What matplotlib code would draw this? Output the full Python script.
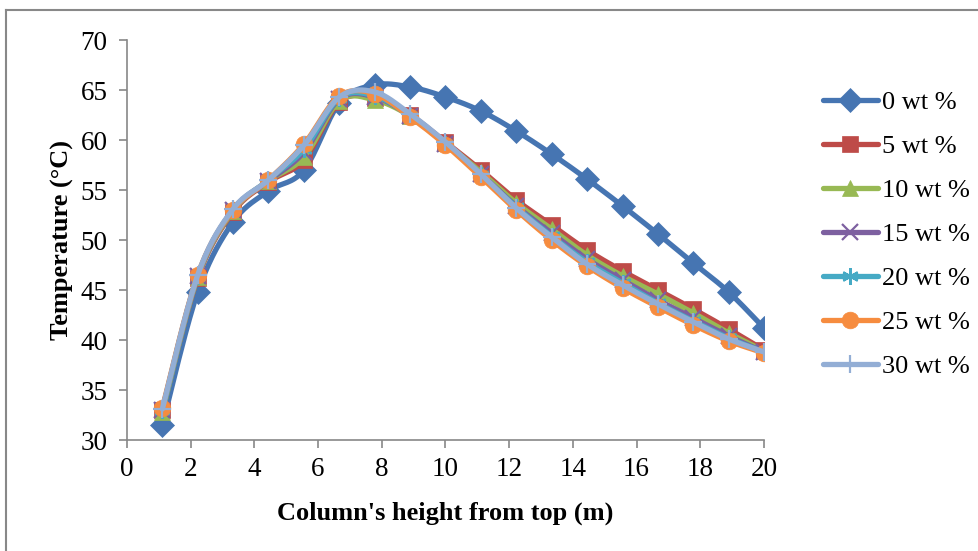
import numpy as np
import matplotlib
matplotlib.use("Agg")
import matplotlib.pyplot as plt
from matplotlib.lines import Line2D

# ---- data ----
heights = [1.11, 2.22, 3.33, 4.44, 5.56, 6.67, 7.78, 8.89, 10.0, 11.11,
           12.22, 13.33, 14.44, 15.56, 16.67, 17.78, 18.89, 20.0]
labels = ["0 wt %", "5 wt %", "10 wt %", "15 wt %", "20 wt %", "25 wt %", "30 wt %"]
t0 = [31.5, 44.8, 51.8, 54.9, 57.0, 63.7, 65.5, 65.3, 64.3, 62.9, 60.9, 58.6, 56.1, 53.4, 50.6, 47.7, 44.8, 41.2]
t5 = [33.0, 46.2, 52.8, 55.8, 58.0, 63.8, 64.2, 62.5, 59.8, 57.0, 54.0, 51.5, 49.0, 46.9, 45.0, 43.1, 41.1, 39.0]
t10 = [32.8, 46.3, 52.9, 55.9, 58.3, 63.9, 64.0, 62.4, 59.7, 56.8, 53.7, 51.1, 48.5, 46.4, 44.6, 42.7, 40.7, 38.9]
t15 = [33.0, 46.4, 53.0, 55.9, 58.8, 64.1, 64.3, 62.4, 59.6, 56.6, 53.4, 50.7, 48.1, 46.0, 44.0, 42.2, 40.4, 38.8]
t20 = [33.0, 46.4, 53.0, 56.0, 59.1, 64.2, 64.4, 62.4, 59.6, 56.5, 53.3, 50.4, 47.8, 45.7, 43.7, 41.9, 40.2, 38.8]
t25 = [33.2, 46.5, 53.0, 56.0, 59.6, 64.4, 64.6, 62.3, 59.5, 56.3, 53.0, 50.0, 47.4, 45.2, 43.3, 41.5, 39.9, 38.7]
t30 = [33.1, 46.5, 53.1, 56.0, 59.5, 64.3, 64.8, 62.6, 59.8, 56.6, 53.2, 50.3, 47.6, 45.5, 43.6, 41.8, 40.1, 38.8]
series = [t0, t5, t10, t15, t20, t25, t30]

colors = ["#4675B2", "#BE4B48", "#98B954", "#7D60A0", "#46AAC5", "#F68C3F", "#93AED5"]
markers = ["D", "s", "^", "x", (6, 2, 0), "o", "+"]
msizes = [12, 11, 11, 11, 12, 12, 13]

plt.rcParams["font.family"] = ["Liberation Serif", "DejaVu Serif"]


def smooth(x, y, n=20):
    x = np.asarray(x, float)
    y = np.asarray(y, float)
    px = np.concatenate([[x[0]], x, [x[-1]]])
    py = np.concatenate([[y[0]], y, [y[-1]]])
    xs, ys = [], []
    t = np.linspace(0, 1, n)
    for i in range(len(x) - 1):
        p0 = np.array([px[i], py[i]])
        p1 = np.array([px[i + 1], py[i + 1]])
        p2 = np.array([px[i + 2], py[i + 2]])
        p3 = np.array([px[i + 3], py[i + 3]])
        c1 = p1 + (p2 - p0) / 6.0
        c2 = p2 - (p3 - p1) / 6.0
        b = ((1 - t) ** 3)[:, None] * p1 + (3 * (1 - t) ** 2 * t)[:, None] * c1 \
            + (3 * (1 - t) * t ** 2)[:, None] * c2 + (t ** 3)[:, None] * p2
        xs.append(b[:, 0])
        ys.append(b[:, 1])
    return np.concatenate(xs), np.concatenate(ys)


fig = plt.figure(figsize=(9.79, 5.51), dpi=100)
W, H = 979, 551
ax = fig.add_axes([127 / W, 1 - 440 / H, (764 - 127) / W, (440 - 40) / H])

handles = []
for vals, lab, c, m, ms in zip(series, labels, colors, markers, msizes):
    sx, sy = smooth(heights, vals)
    ax.plot(sx, sy, color=c, lw=3.8, solid_capstyle="round", zorder=3)
    mew = 1.6 if m in ("x", "+") or isinstance(m, tuple) else 0.5
    ax.plot(heights, vals, linestyle="none", marker=m, markersize=ms, color=c,
            markeredgecolor=c, markeredgewidth=mew, zorder=3)
    handles.append(Line2D([0], [0], color=c, lw=3.8, marker=m, markersize=ms,
                          markeredgecolor=c, markeredgewidth=mew,
                          solid_capstyle="round"))

ax.set_xlim(0, 20)
ax.set_ylim(30, 70)
ax.set_xticks(range(0, 21, 2))
ax.set_yticks(range(30, 71, 5))
for s in ["top", "right"]:
    ax.spines[s].set_visible(False)
for s in ["left", "bottom"]:
    ax.spines[s].set_color("#888888")
    ax.spines[s].set_linewidth(1.2)
ax.tick_params(axis="both", direction="out", length=6, width=1.2, color="#888888",
               labelsize=19.5, labelcolor="black")
ax.tick_params(axis="y", pad=8)
ax.tick_params(axis="x", pad=6)

ax.set_xlabel("Column's height from top (m)", fontsize=19, fontweight="bold", labelpad=14)
ax.set_ylabel("Temperature (°C)", fontsize=19, fontweight="bold", labelpad=5)

leg = fig.legend(handles, labels, loc="upper left", bbox_to_anchor=(812 / W, 1 - 80 / H),
                 frameon=False, fontsize=19, handlelength=2.1, handletextpad=0.15,
                 labelspacing=0.78, borderaxespad=0)

# outer chart border (top and left visible)
fig.add_artist(Line2D([6 / W, 6 / W], [0, 1 - 10 / H], color="#888888", lw=1.5,
                      transform=fig.transFigure))
fig.add_artist(Line2D([6 / W, 1], [1 - 10 / H, 1 - 10 / H], color="#888888", lw=1.5,
                      transform=fig.transFigure))

fig.savefig("out.png", dpi=100)
